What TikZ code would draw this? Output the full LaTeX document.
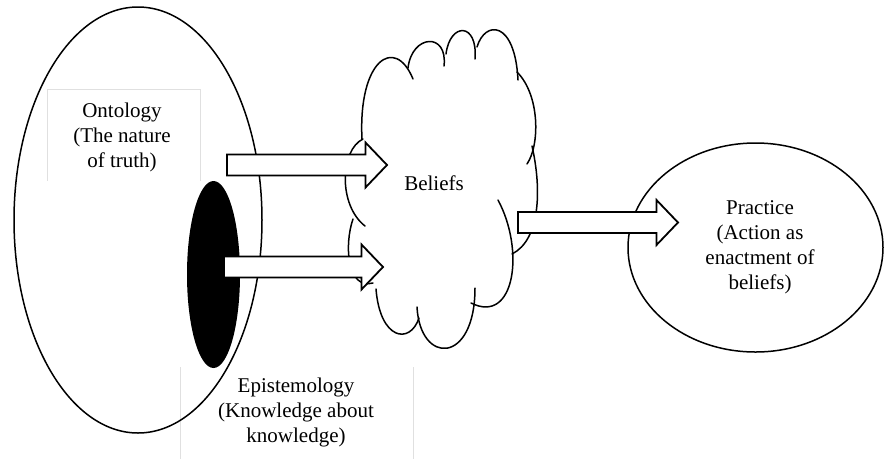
\documentclass[tikz,border=0pt]{standalone}
\usepackage{fontspec}
\setmainfont{Liberation Serif}
\begin{document}
\begin{tikzpicture}[x=1pt,y=-1pt,
  outline/.style={draw=black,line width=1.5pt},
  faint/.style={draw=black!12,line width=0.8pt},
  label/.style={font=\fontsize{21}{25}\selectfont,align=center,inner sep=0pt},
  pics/blockarrow/.style={code={
    \draw[draw=black,fill=white,line width=1.8pt,line join=miter]
      (0,-10.5) -- ({#1-21.5},-10.5) -- ({#1-21.5},-22.5) -- (#1,0)
      -- ({#1-21.5},22.5) -- ({#1-21.5},10.5) -- (0,10.5) -- cycle;}}]
\useasboundingbox (0,0) rectangle (884,459);

% light frames of the two text boxes
\draw[faint] (47,181) -- (47,89) -- (200,89) -- (200,181);
\draw[faint] (180,367) -- (180,459);
\draw[faint] (413,367) -- (413,459);

% ontology and epistemology
\draw[outline] (138,220) ellipse [x radius=124pt, y radius=213pt];
\fill[black] (213.5,274.5) ellipse [x radius=26.5pt, y radius=93.5pt];

% beliefs cloud, lobe by lobe
\begin{scope}[outline,line cap=round]
  \draw (363,139) .. controls (340,150) and (338,205) .. (365,226);
  \draw (353,219) .. controls (344,245) and (347,290) .. (373,283);
  \draw (376,289) .. controls (380,340) and (410,345) .. (419,318);
  \draw (417,307) .. controls (420,365) and (475,365) .. (475,288);
  \draw (498,200) .. controls (525,250) and (515,325) .. (471,303);
  \draw (532,146) .. controls (542,190) and (540,240) .. (512,254);
  \draw (517,72) .. controls (540,95) and (540,145) .. (527,164);
  \draw (477,47) .. controls (485,20) and (515,20) .. (518,80);
  \draw (446,54) .. controls (450,22) and (478,22) .. (475,59);
  \draw (408,68) .. controls (412,34) and (448,32) .. (444,66);
  \draw (362,139) .. controls (358,60) and (395,35) .. (413,79);
\end{scope}

% practice
\draw[outline] (755.5,247.5) ellipse [x radius=127.5pt, y radius=104.5pt];

% block arrows
\coordinate (a1) at (227,165);
\coordinate (a2) at (224,267);
\coordinate (a3) at (518,222.5);
\pic at (a1) {blockarrow=160};
\pic at (a2) {blockarrow=159};
\pic at (a3) {blockarrow=160};

% labels
\node[label] (ontology) at (122,137) {Ontology\\(The nature\\of truth)};
\node[label] (epistemology) at (296,412) {Epistemology\\(Knowledge about\\knowledge)};
\node[label] (beliefs) at (434,183) {Beliefs};
\node[label] (practice) at (760,247) {Practice\\(Action as\\enactment of\\beliefs)};
\end{tikzpicture}
\end{document}
